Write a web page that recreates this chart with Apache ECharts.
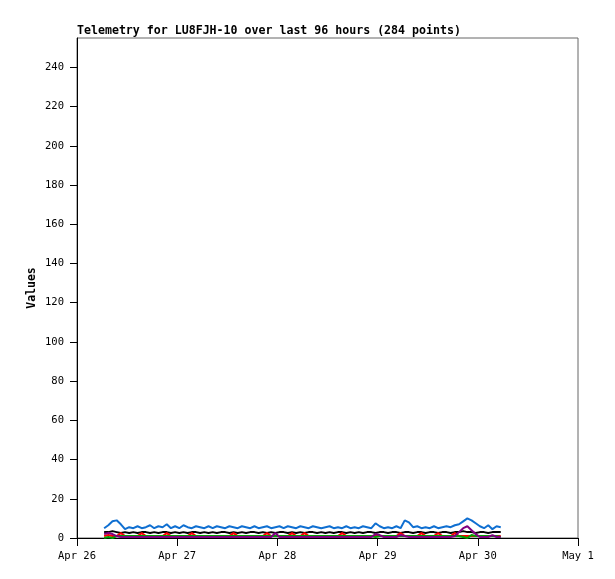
<!DOCTYPE html>
<html>
<head>
<meta charset="utf-8">
<script src="https://cdn.jsdelivr.net/npm/echarts@6/dist/echarts.min.js"></script>
<style>
html,body{margin:0;padding:0;background:#fff;}
#chart{width:615px;height:579px;}
</style>
</head>
<body>
<div id="chart"></div>
<script>
// X tick labels (hours from Apr 26 00:00, one per day)
const xTickLabels = ["Apr 26", "Apr 27", "Apr 28", "Apr 29", "Apr 30", "May 1"];
// Sample times: hours since Apr 26 00:00
const startHour = 6.5;
const stepHours = 1;

const blueValues = [
  5, 6.5, 8.5, 9, 7, 4.5, 5.5, 5, 6, 5,
  5.5, 6.5, 5, 6, 5.5, 7, 5, 6, 5, 6.5,
  5.5, 5, 6, 5.5, 5, 6, 5, 6, 5.5, 5,
  6, 5.5, 5, 6, 5.5, 5, 6, 5, 5.5, 6,
  5, 5.5, 6, 5, 6, 5.5, 5, 6, 5.5, 5,
  6, 5.5, 5, 5.5, 6, 5, 5.5, 5, 6, 5,
  5.5, 5, 6, 5.5, 5, 7.5, 6, 5, 5.5, 5,
  6, 5, 9, 8, 5.5, 6, 5, 5.5, 5, 6,
  5, 5.5, 6, 5.5, 6.5, 7, 8.5, 10, 9, 7.5,
  6, 5, 6.5, 4.5, 6, 5.5
];
const blackValues = [
  3, 3, 3.5, 3, 2.5, 3, 2.5, 3, 2.5, 3,
  3, 2.5, 3, 2.5, 3, 3, 2.5, 3, 2.5, 3,
  2.5, 3, 3, 2.5, 3, 2.5, 3, 2.5, 3, 3,
  2.5, 3, 2.5, 3, 2.5, 3, 3, 2.5, 3, 2.5,
  3, 2.5, 3, 3, 2.5, 3, 2.5, 3, 2.5, 3,
  3, 2.5, 3, 2.5, 3, 2.5, 3, 3, 2.5, 3,
  2.5, 3, 2.5, 3, 3, 2.5, 3, 3, 2.5, 3,
  3, 2.5, 3, 3, 2.5, 3, 3, 2.5, 3, 3,
  2.5, 3, 3, 2.5, 3, 3, 3.5, 3, 3, 2.5,
  3, 3, 2.5, 3, 3, 3
];
const redValues = [
  1, 1.5, 1, 1, 2.5, 1, 1, 1, 1, 2.5,
  1, 1, 1, 1, 1, 2.5, 1, 1, 1, 1,
  1, 2.5, 1, 1, 1, 1, 1, 1, 1, 1,
  1, 2.5, 1, 1, 1, 1, 1, 1, 1, 2.5,
  1, 1, 1, 1, 1, 2.5, 1, 1, 2.5, 1,
  1, 1, 1, 1, 1, 1, 1, 2.5, 1, 1,
  1, 1, 1, 1, 1, 1, 1, 1, 1, 1,
  1, 2.5, 1, 1, 1, 1, 2.5, 1, 1, 1,
  2.5, 1, 1, 1, 2.5, 1, 1, 1, 1, 1,
  1, 1, 1, 1, 1, 1
];
const greenValues = [
  0, 0.5, 0, 1, 1, 1, 1, 1, 1, 1,
  1, 1, 1, 1, 1, 1, 1, 1, 1, 1,
  1, 1, 1, 1, 1, 1, 1, 1, 1, 1,
  1, 1, 1, 1, 1, 1, 1, 1, 1, 1,
  1, 1, 1, 1, 1, 1, 1, 1, 1, 1,
  1, 1, 1, 1, 1, 1, 1, 1, 1, 1,
  1, 1, 1, 1, 1, 0.5, 1, 1, 1, 1,
  1, 1, 1, 1, 1, 1, 1, 1, 1, 1,
  1, 1, 1, 1, 1, 1, 0.5, 0, 1.5, 1,
  1, 1, 1, 1, 1, 0.5
];
const purpleValues = [
  2, 2.5, 2, 1, 0.5, 0.5, 0.5, 0.5, 0.5, 0.5,
  0.5, 0.5, 0.5, 0.5, 0.5, 0.5, 0.5, 0.5, 0.5, 0.5,
  0.5, 0.5, 0.5, 0.5, 0.5, 0.5, 0.5, 0.5, 0.5, 0.5,
  0.5, 0.5, 0.5, 0.5, 0.5, 0.5, 0.5, 0.5, 0.5, 0.5,
  0.5, 2.5, 0.5, 0.5, 0.5, 0.5, 0.5, 0.5, 0.5, 0.5,
  0.5, 0.5, 0.5, 0.5, 0.5, 0.5, 0.5, 0.5, 0.5, 0.5,
  0.5, 0.5, 0.5, 0.5, 0.5, 2, 1.5, 0.5, 0.5, 0.5,
  0.5, 1.5, 1, 0.5, 0.5, 0.5, 0.5, 0.5, 0.5, 0.5,
  0.5, 0.5, 0.5, 0.5, 1, 3, 5, 6, 4, 2,
  0.5, 0.5, 0.5, 1.5, 0.5, 0.5
];

function pairs(vals) {
  return vals.map((v, i) => [startHour + i * stepHours, v]);
}

const font = '"DejaVu Sans Mono", "Liberation Mono", monospace';
const chart = echarts.init(document.getElementById('chart'), null, {renderer: 'canvas'});

function line(name, vals, color) {
  return {
    name: name, type: 'line', data: pairs(vals), showSymbol: false,
    lineStyle: {color: color, width: 2}, itemStyle: {color: color},
    animation: false, silent: true
  };
}

chart.setOption({
  animation: false,
  backgroundColor: '#ffffff',
  title: {
    text: 'Telemetry for LU8FJH-10 over last 96 hours (284 points)',
    left: 77, top: 25, padding: 0,
    textStyle: {fontFamily: font, fontSize: 11.6, fontWeight: 'bold', color: '#000'}
  },
  graphic: [{
    type: 'text', x: 32, y: 288, rotation: Math.PI / 2,
    style: {
      text: 'Values', fontFamily: font, fontSize: 11.5, fontWeight: 'bold',
      fill: '#000', align: 'center', verticalAlign: 'middle'
    }
  }],
  grid: {left: 77, top: 38, right: 37, bottom: 41, show: true, borderColor: '#666', borderWidth: 1},
  xAxis: {
    type: 'value', min: 0, max: 120, interval: 24,
    axisLine: {show: true, onZero: false, lineStyle: {color: '#000', width: 1}},
    axisTick: {show: true, length: 8, lineStyle: {color: '#000', width: 1}},
    splitLine: {show: false},
    axisLabel: {
      fontFamily: font, fontSize: 10.5, color: '#000', margin: 13,
      formatter: v => xTickLabels[Math.round(v / 24)] || ''
    }
  },
  yAxis: {
    type: 'value', min: 0, max: 255, interval: 20,
    axisLine: {show: true, lineStyle: {color: '#000', width: 1}},
    axisTick: {show: true, length: 7, lineStyle: {color: '#000'}},
    splitLine: {show: false},
    axisLabel: {
      fontFamily: font, fontSize: 10.5, color: '#000', margin: 13,
      showMaxLabel: false,
      formatter: v => (v % 20 === 0 ? String(v) : '')
    }
  },
  series: [
    line('blue', blueValues, '#0f6fd1'),
    line('black', blackValues, '#000000'),
    line('red', redValues, '#ff0000'),
    line('green', greenValues, '#00a000'),
    line('purple', purpleValues, '#800080')
  ]
});
</script>
</body>
</html>
